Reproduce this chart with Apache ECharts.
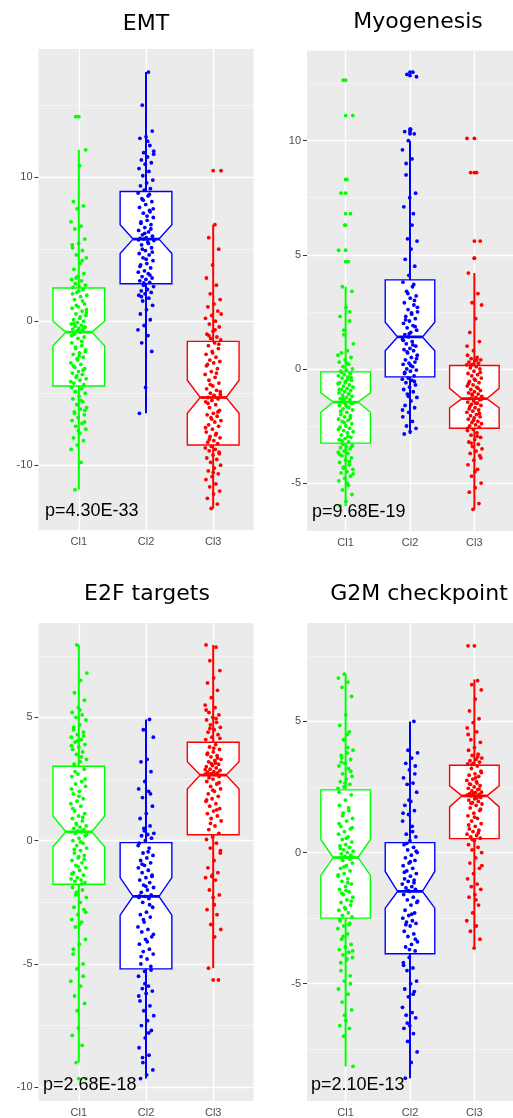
<!DOCTYPE html>
<html>
<head>
<meta charset="utf-8">
<script src="https://cdn.jsdelivr.net/npm/echarts@6/dist/echarts.min.js"></script>
<style>
html,body{margin:0;padding:0;background:#fff;}
#chart{width:513px;height:1118px;}
</style>
</head>
<body>
<div id="chart"></div>
<script>
// ---------------- DATA ----------------
const categories = ['Cl1', 'Cl2', 'Cl3'];
const panelTitles = ['EMT', 'Myogenesis', 'E2F targets', 'G2M checkpoint'];
const pValues = ['p=4.30E-33', 'p=9.68E-19', 'p=2.68E-18', 'p=2.10E-13'];

// y-axis domains and tick labels
const emtRange = [-14.5, 18.9];
const myoRange = [-7.1, 13.95];
const e2fRange = [-10.56, 8.83];
const g2mRange = [-9.47, 8.75];
const emtTicks = [-10, 0, 10];
const myoTicks = [-5, 0, 5, 10];
const e2fTicks = [-10, -5, 0, 5];
const g2mTicks = [-5, 0, 5];
const emtMinor = [-5, 5, 15];
const myoMinor = [-2.5, 2.5, 7.5, 12.5];
const e2fMinor = [-7.5, -2.5, 2.5, 7.5];
const g2mMinor = [-7.5, -2.5, 2.5, 7.5];

// box stats per cluster: [whiskerLow, Q1, median, Q3, whiskerHigh, notchLow, notchHigh]
const emtBoxes = [
  [-11.7, -4.5, -0.76, 2.3, 11.9, -1.7, 0.0],
  [-6.4, 2.6, 5.7, 9.0, 17.3, 4.7, 6.7],
  [-13.0, -8.6, -5.3, -1.4, 6.7, -6.4, -4.1]
];
const myoBoxes = [
  [-6.0, -3.25, -1.45, -0.13, 3.6, -1.9, -1.05],
  [-2.85, -0.35, 1.4, 3.9, 10.0, 0.8, 2.05],
  [-6.15, -2.6, -1.3, 0.15, 4.2, -1.7, -0.85]
];
const e2fBoxes = [
  [-9.0, -1.77, 0.36, 3.02, 7.94, -0.25, 1.0],
  [-9.65, -5.2, -2.26, -0.08, 4.92, -3.02, -1.5],
  [-5.17, 0.24, 2.66, 3.99, 7.94, 2.1, 3.2]
];
const g2mBoxes = [
  [-8.15, -2.5, -0.19, 2.39, 6.8, -0.87, 0.5],
  [-8.6, -3.86, -1.48, 0.38, 5.0, -2.12, -0.72],
  [-3.64, 0.53, 2.16, 3.33, 6.6, 1.74, 2.54]
];

// outliers drawn by the boxplot
const emtOutliers = [[14.2], [], [10.45]];
const myoOutliers = [[12.65, 11.1, 8.3, 7.7, 6.8, 6.3, 5.2, 4.7], [13.0, 12.85, 10.5, 10.4, 10.3], [10.1, 8.6, 5.6, 4.85]];
const e2fOutliers = [[-9.65], [], [-5.65]];
const g2mOutliers = [[], [], [7.88]];

// jittered sample points
const emtCl1 = [14.2, 11.9, 10.8, 8.3, 8.0, 7.8, 6.9, 6.6, 6.4, 5.7, 5.4, 5.1, 4.9, 4.6, 4.4, 4.0, 3.6, 3.3, 3.1, 2.9, 2.8, 2.6, 2.5, 2.4, 2.35,
  2.2, 2.0, 1.8, 1.7, 1.5, 1.2, 1.0, 0.9, 0.7, 0.5, 0.4, 0.2, 0.1, 0.0, -0.1, -0.2, -0.3, -0.35, -0.4, -0.5, -0.55, -0.6, -0.7, 0.8, -0.76,
  -0.9, -1.1, -1.2, -1.5, -1.7, -1.9, -2.0, -2.2, -2.3, -2.5, -2.6, -2.9, -3.0, -3.2, -3.3, -3.5, -3.6, -3.7, -3.9, -4.0, -4.1, -4.3, -4.4, -2.7,
  -4.6, -4.7, -4.9, -5.0, -5.2, -5.4, -5.6, -5.8, -6.0, -6.1, -6.3, -6.5, -6.7, -6.9, -7.1, -7.3, -7.5, -7.8, -8.1, -8.3, -8.6, -8.9, -9.8, -11.7, -6.2,
  2.1, 1.9, 1.4, 1.1, 0.6, 0.3, -0.15, -0.45, -0.65, -1.0, -1.4, -1.8, -2.1, -2.4, -3.1, -3.4, -3.8, -4.2, -5.5, -6.4, -7.0, -7.6, 5.3, 4.2, 3.0];
const emtCl2 = [17.3, 15.0, 13.2, 12.8, 12.7, 12.2, 11.7, 11.6, 11.4, 11.2, 11.0, 10.9, 10.6, 10.4, 10.1, 9.8, 9.6, 9.4, 9.2, 9.1,
  8.9, 8.7, 8.5, 8.3, 8.1, 7.9, 7.7, 7.5, 7.2, 7.0, 6.9, 6.7, 6.5, 6.3, 6.2, 6.0, 5.9, 5.8, 5.75, 7.6, 5.7,
  5.6, 5.5, 5.3, 5.1, 4.9, 4.7, 4.6, 4.4, 4.2, 4.0, 3.9, 3.7, 3.5, 3.4, 3.3, 3.1, 3.0, 2.9, 2.8, 2.7,
  2.5, 2.4, 2.2, 2.1, 2.0, 1.9, 1.8, 1.6, 1.4, 1.1, 0.8, 0.5, 0.1, -0.3, -0.6, -1.0, -1.5, -2.1, -4.6, -6.4,
  8.8, 8.4, 7.8, 7.3, 6.8, 6.4, 6.1, 5.65, 5.4, 5.0, 4.8, 4.3, 3.8, 3.2, 2.65, 11.8, 12.5, 1.7];
const emtCl3 = [10.45, 6.7, 5.8, 5.0, 3.9, 3.0, 2.5, 1.9, 1.5, 1.2, 1.0, 0.7, 0.4, 0.2, 0.0, -0.2, -0.4, -0.7, -0.9, -1.1, -1.2, -1.3,
  -1.5, -1.7, -1.9, -2.1, -2.3, -2.5, -2.7, -2.8, -2.9, -3.0, -3.3, -3.5, -3.7, -3.9, -4.1, -4.3, -4.5, -4.7, -4.8, -5.0, -5.1, -5.2, -5.3,
  -5.4, -5.5, -5.6, -5.8, -6.0, -6.2, -6.4, -6.5, -6.6, -6.7, -6.9, -7.0, -7.2, -7.3, -7.5, -7.7, -7.8, -8.0, -8.1, -8.3, -8.4, -8.5,
  -8.7, -8.8, -8.9, -9.0, -9.1, -9.3, -9.5, -9.6, -9.8, -10.0, -10.2, -10.4, -10.6, -10.8, -11.0, -11.3, -11.5, -11.8, -12.0, -12.3, -12.7, -13.0,
  0.5, -0.6, -1.0, -1.6, -2.2, -3.1, -3.6, -4.4, -4.9, -5.15, -5.7, -6.3, -6.8, -7.4, -7.9, -8.2, -9.2, -10.5];

const myoCl1 = [12.65, 11.1, 8.3, 7.7, 6.8, 6.3, 5.2, 4.7, 3.6, 3.4, 2.7, 2.3, 2.1, 1.7, 1.1, 0.8, 0.7, 0.5, 0.4, 0.3, 0.2, 0.1, 0.0, -0.05, -0.1,
  -0.2, -0.25, -0.3, -0.35, -0.4, -0.5, -0.55, -0.6, -0.7, -0.75, -0.8, -0.85, -0.9, -0.95, -1.0, -1.05, -1.1, -1.15, -1.2, -1.25, -1.3, -1.35, -1.4, -0.65, -0.45, -1.45,
  -1.5, -1.55, -1.6, -1.7, -1.75, -1.8, -1.9, -2.0, -2.05, -2.1, -2.2, -2.25, -2.3, -2.4, -2.5, -2.55, -2.6, -2.7, -2.75, -2.8, -2.9, -3.0, -3.05, -3.1, -3.2,
  -3.3, -3.35, -3.4, -3.45, -3.5, -3.6, -3.65, -3.7, -3.8, -3.9, -4.0, -4.1, -4.2, -4.3, -4.4, -4.5, -4.55, -4.7, -4.8, -4.9, -5.1, -5.3, -5.5, -5.8, -6.0,
  2.5, 1.5, 0.6, 0.25, -0.15, -0.38, -0.6, -0.9, -1.1, -1.3, -1.5, -1.65, -1.85, -2.15, -2.35, -2.65, -2.95, -3.15, -3.4, -3.55, -3.75, -4.05, -4.35, -4.6, -5.0];
const myoCl2 = [13.0, 12.9, 12.8, 10.5, 10.4, 10.3, 10.0, 9.6, 9.2, 8.5, 7.7, 7.5, 7.1, 6.8, 5.7, 5.6, 5.25, 4.8, 4.5, 4.1,
  3.8, 3.6, 3.4, 3.2, 3.1, 2.9, 2.8, 2.6, 2.5, 2.4, 2.3, 2.2, 2.1, 2.0, 1.9, 1.8, 1.7, 1.6, 1.5, 3.0, 1.4,
  1.3, 1.2, 1.1, 1.0, 0.9, 0.85, 0.8, 0.7, 0.6, 0.5, 0.4, 0.3, 0.25, 0.2, 0.1, 0.0, -0.05, -0.1, -0.2, -0.3,
  -0.4, -0.45, -0.5, -0.6, -0.7, -0.8, -0.9, -1.0, -1.1, -1.25, -1.4, -1.6, -1.7, -1.9, -2.1, -2.3, -2.5, -2.6, -2.75, -2.85,
  3.7, 3.3, 2.7, 2.45, 2.15, 1.85, 1.55, 1.25, 1.05, 0.75, 0.45, 0.15, -0.15, -0.55, -1.2, -1.8, 6.3, 9.0];
const myoCl3 = [10.1, 8.6, 8.6, 5.6, 4.85, 4.2, 3.3, 2.9, 2.8, 2.2, 1.6, 1.2, 0.8, 0.6, 0.5, 0.45, 0.4, 0.35, 0.3, 0.25, 0.2, 0.18,
  0.1, 0.05, 0.0, -0.1, -0.2, -0.25, -0.3, -0.4, -0.5, -0.55, -0.6, -0.7, -0.75, -0.8, -0.9, -0.95, -1.0, -1.05, -1.1, -1.15, -1.2, -1.25, -1.3,
  -1.35, -1.4, -1.45, -1.5, -1.55, -1.6, -1.7, -1.75, -1.8, -1.85, -1.9, -2.0, -2.05, -2.1, -2.15, -2.2, -2.3, -2.35, -2.4, -2.45, -2.5, -2.55,
  -2.65, -2.7, -2.8, -2.9, -3.0, -3.1, -3.2, -3.3, -3.4, -3.5, -3.6, -3.7, -3.8, -4.0, -4.2, -4.4, -4.7, -5.0, -5.2, -5.4, -5.9, -6.15,
  1.0, 0.4, 0.15, -0.15, -0.45, -0.65, -0.85, -1.1, -1.32, -1.5, -1.65, -1.95, -2.25, -2.6, -2.95, -3.25, -3.9, -4.5];

const e2fCl1 = [7.94, 6.8, 6.5, 6.0, 5.7, 5.4, 5.2, 5.1, 5.0, 4.9, 4.7, 4.5, 4.4, 4.3, 4.2, 4.1, 4.0, 3.9, 3.8, 3.7, 3.6, 3.5, 3.3, 3.2, 3.1,
  2.9, 2.7, 2.6, 2.4, 2.3, 2.2, 2.0, 1.9, 1.7, 1.6, 1.5, 1.4, 1.2, 1.1, 1.0, 0.9, 0.8, 0.7, 0.6, 0.55, 0.5, 0.45, 0.4, 2.1, 0.36,
  0.3, 0.2, 0.1, 0.0, -0.1, -0.2, -0.3, -0.4, -0.5, -0.6, -0.7, -0.8, -0.9, -1.0, -1.1, -1.2, -1.3, -1.4, -1.5, -1.55, -1.6, -1.65, -1.7, -0.65,
  -1.9, -2.0, -2.1, -2.3, -2.5, -2.7, -2.8, -3.0, -3.2, -3.3, -3.5, -4.0, -4.2, -4.6, -5.0, -5.2, -5.7, -5.9, -6.3, -6.6, -7.6, -7.9, -8.3, -9.0, -9.65,
  5.3, 4.6, 4.25, 4.05, 3.85, 3.4, 2.8, 2.5, 1.8, 1.3, 0.95, 0.65, 0.25, -0.05, -0.35, -0.75, -1.05, -1.35, -1.75, -2.2, -2.9, -3.4, -4.4, -5.5, -6.9];
const e2fCl2 = [4.92, 4.5, 4.2, 3.3, 3.2, 2.8, 2.4, 2.1, 2.0, 1.75, 1.4, 1.1, 0.9, 0.6, 0.5, 0.3, 0.25, 0.2, 0.1, 0.0,
  -0.1, -0.3, -0.5, -0.6, -0.7, -0.8, -0.9, -1.0, -1.1, -1.2, -1.3, -1.4, -1.5, -1.6, -1.7, -1.8, -1.9, -2.0, -2.1, -2.2, -2.26,
  -2.3, -2.35, -2.5, -2.7, -2.9, -3.0, -3.1, -3.3, -3.5, -3.6, -3.7, -3.9, -4.0, -4.2, -4.4, -4.5, -4.6, -4.8, -5.0, -5.1,
  -5.3, -5.5, -5.9, -6.0, -6.1, -6.2, -6.5, -6.7, -6.9, -7.1, -7.3, -7.5, -7.7, -8.0, -8.4, -8.7, -9.0, -9.3, -9.5, -9.65,
  1.9, 0.4, -0.2, -0.45, -0.95, -1.45, -1.85, -2.24, -2.6, -3.2, -3.8, -4.1, -4.7, -5.25, -5.8, -6.3, -7.8, -8.8];
const e2fCl3 = [7.94, 7.85, 7.3, 6.9, 6.6, 6.4, 6.1, 5.8, 5.5, 5.4, 5.2, 5.1, 5.0, 4.9, 4.8, 4.7, 4.6, 4.5, 4.4, 4.3, 4.2, 4.1,
  3.9, 3.8, 3.7, 3.6, 3.5, 3.45, 3.4, 3.3, 3.25, 3.2, 3.1, 3.05, 3.0, 2.95, 2.9, 2.85, 2.8, 2.78, 2.75, 2.72, 2.7, 3.15, 2.66,
  2.6, 2.5, 2.4, 2.3, 2.2, 2.1, 2.0, 1.9, 1.8, 1.7, 1.6, 1.5, 1.4, 1.3, 1.2, 1.1, 1.0, 0.9, 0.8, 0.6, 0.45, 0.3,
  0.15, 0.05, -0.1, -0.3, -0.5, -0.8, -1.1, -1.3, -1.45, -1.5, -1.6, -2.0, -2.2, -2.3, -2.8, -3.0, -3.4, -3.6, -3.9, -5.17, -5.65, -1.4,
  5.3, 4.95, 4.55, 4.15, 3.75, 3.55, 3.35, 3.12, 2.88, 2.68, 2.55, 2.35, 2.05, 1.65, 1.25, 0.7, -0.4, -2.6];

const g2mCl1 = [6.8, 6.65, 6.5, 6.3, 5.95, 5.25, 4.85, 4.6, 4.3, 3.9, 3.8, 3.7, 3.55, 3.4, 3.3, 3.2, 3.0, 2.9, 2.8, 2.7, 2.6, 2.5, 2.45, 4.0, 3.6,
  2.2, 2.0, 1.8, 1.6, 1.5, 1.3, 1.2, 1.0, 0.9, 0.8, 0.7, 0.6, 0.5, 0.4, 0.3, 0.25, 0.2, 0.1, 0.05, 0.0, -0.05, -0.1, -0.15, 1.1, -0.19,
  -0.3, -0.4, -0.5, -0.6, -0.7, -0.8, -0.9, -1.0, -1.1, -1.2, -1.3, -1.4, -1.5, -1.6, -1.7, -1.8, -1.9, -2.0, -2.1, -2.2, -2.3, -2.4, -2.45, -1.45,
  -2.6, -2.7, -2.8, -2.9, -3.1, -3.3, -3.5, -3.6, -3.7, -3.8, -3.9, -4.0, -4.1, -4.2, -4.7, -4.9, -5.2, -5.4, -5.7, -6.0, -6.4, -6.6, -6.7, -7.0, -8.15,
  4.5, 3.45, 3.1, 2.65, 2.3, 1.7, 1.4, 0.95, 0.55, 0.15, -0.25, -0.55, -0.85, -1.15, -1.55, -1.85, -2.15, -2.55, -2.75, -3.2, -3.75, -4.05, -4.5, -5.0, -6.2];
const g2mCl2 = [5.0, 3.9, 3.8, 3.6, 3.4, 3.3, 3.15, 2.85, 2.65, 2.6, 2.3, 1.95, 1.8, 1.6, 1.45, 1.2, 1.0, 0.7, 0.6, 0.45,
  0.3, 0.2, 0.1, 0.0, -0.1, -0.2, -0.3, -0.4, -0.5, -0.6, -0.7, -0.8, -0.9, -1.0, -1.05, -1.1, -1.2, -1.3, -1.35, -1.4, -1.48,
  -1.6, -1.7, -1.8, -1.9, -2.0, -2.2, -2.3, -2.4, -2.5, -2.6, -2.65, -2.7, -2.8, -3.0, -3.1, -3.2, -3.4, -3.5, -3.6, -3.75,
  -4.0, -4.2, -4.4, -4.5, -4.9, -5.0, -5.2, -5.3, -5.5, -5.9, -6.1, -6.2, -6.3, -6.6, -6.7, -6.9, -7.2, -7.6, -8.0, -8.6,
  3.0, 2.0, 1.5, 0.8, 0.35, 0.05, -0.35, -0.75, -1.15, -1.45, -1.85, -2.35, -2.75, -3.3, -3.7, -4.3, -5.4, -6.5];
const g2mCl3 = [7.88, 6.55, 6.4, 6.2, 5.85, 5.4, 5.1, 4.95, 4.75, 4.6, 4.3, 4.2, 4.0, 3.9, 3.75, 3.7, 3.6, 3.55, 3.5, 3.45, 3.4, 3.38,
  3.3, 3.2, 3.1, 3.0, 2.95, 2.9, 2.8, 2.75, 2.7, 2.6, 2.55, 2.5, 2.45, 2.4, 2.35, 2.3, 2.28, 2.25, 2.22, 2.2, 2.18, 2.65, 2.16,
  2.1, 2.05, 2.0, 1.95, 1.9, 1.85, 1.8, 1.7, 1.6, 1.5, 1.4, 1.3, 1.2, 1.1, 1.0, 0.9, 0.85, 0.8, 0.7, 0.65, 0.6, 0.55,
  0.45, 0.3, 0.2, 0.1, 0.0, -0.2, -0.4, -0.6, -0.8, -1.0, -1.2, -1.3, -1.4, -1.6, -1.7, -2.0, -2.3, -2.6, -2.8, -3.0, -3.3, -3.64,
  4.5, 3.65, 3.35, 3.05, 2.85, 2.62, 2.42, 2.26, 2.19, 2.08, 1.88, 1.65, 1.35, 1.05, 0.75, 0.5, -0.5, -1.8];

// ---------------- LAYOUT / STYLE ----------------
const COLORS = ['#00FF00', '#0000FF', '#FF0000'];
const BOX_W = 0.77;
const JITTER = 0.12;
const grids = [
  {left: 38.5, top: 49, width: 215, height: 481},
  {left: 307, top: 50.5, width: 221, height: 480.5},
  {left: 38.5, top: 623, width: 215, height: 481},
  {left: 307, top: 623, width: 221, height: 481}
];
const panels = [
  {range: emtRange, ticks: emtTicks, minor: emtMinor, boxes: emtBoxes, outliers: emtOutliers, groups: [emtCl1, emtCl2, emtCl3]},
  {range: myoRange, ticks: myoTicks, minor: myoMinor, boxes: myoBoxes, outliers: myoOutliers, groups: [myoCl1, myoCl2, myoCl3]},
  {range: e2fRange, ticks: e2fTicks, minor: e2fMinor, boxes: e2fBoxes, outliers: e2fOutliers, groups: [e2fCl1, e2fCl2, e2fCl3]},
  {range: g2mRange, ticks: g2mTicks, minor: g2mMinor, boxes: g2mBoxes, outliers: g2mOutliers, groups: [g2mCl1, g2mCl2, g2mCl3]}
];
const titlePos = [[146, 24], [418, 22.5], [147, 594], [419, 594]];
const pPos = [[45, 511], [312, 512], [43, 1085], [311, 1085]];

function jitterOffset(i) {
  const f = (i * 0.6180339887 + 0.31) % 1;
  return (f - 0.5) * 2 * JITTER;
}

function renderBox(params, api) {
  const x = api.value(0);
  const wl = api.value(1), q1 = api.value(2), med = api.value(3), q3 = api.value(4);
  const wh = api.value(5), nl = api.value(6), nh = api.value(7);
  const hw = BOX_W / 2, nw = hw * 0.5;
  const c = (xx, yy) => api.coord([xx, yy]);
  const color = COLORS[params.dataIndex];
  const pts = [c(x - hw, q3), c(x + hw, q3), c(x + hw, nh), c(x + nw, med), c(x + hw, nl),
               c(x + hw, q1), c(x - hw, q1), c(x - hw, nl), c(x - nw, med), c(x - hw, nh)];
  const top = c(x, q3), topW = c(x, wh), bot = c(x, q1), botW = c(x, wl);
  const m1 = c(x - nw, med), m2 = c(x + nw, med);
  return {
    type: 'group',
    children: [
      {type: 'line', shape: {x1: top[0], y1: top[1], x2: topW[0], y2: topW[1]}, style: {stroke: color, lineWidth: 2}},
      {type: 'line', shape: {x1: bot[0], y1: bot[1], x2: botW[0], y2: botW[1]}, style: {stroke: color, lineWidth: 2}},
      {type: 'polygon', shape: {points: pts}, style: {fill: '#ffffff', stroke: color, lineWidth: 1.4}},
      {type: 'line', shape: {x1: m1[0], y1: m1[1], x2: m2[0], y2: m2[1]}, style: {stroke: color, lineWidth: 2.8}}
    ]
  };
}

const option = {
  animation: false,
  grid: [], xAxis: [], yAxis: [], series: [],
  graphic: {elements: []}
};

panels.forEach((p, k) => {
  option.grid.push(Object.assign({show: true, backgroundColor: '#EBEBEB', borderWidth: 0, containLabel: false}, grids[k]));
  option.xAxis.push({
    gridIndex: k, type: 'value', min: 0.4, max: 3.6,
    axisLine: {show: false},
    axisTick: {show: true, length: 4, customValues: [1, 2, 3], lineStyle: {color: '#333333', width: 1}},
    axisLabel: {show: true, customValues: [1, 2, 3], formatter: v => categories[Math.round(v) - 1],
                color: '#4D4D4D', fontSize: 11, fontFamily: 'Liberation Sans, Arial', margin: 6},
    splitLine: {show: false}
  });
  option.yAxis.push({
    gridIndex: k, type: 'value', min: p.range[0], max: p.range[1],
    axisLine: {show: false},
    axisTick: {show: true, length: 4, customValues: p.ticks, lineStyle: {color: '#333333', width: 1}},
    axisLabel: {show: true, customValues: p.ticks, formatter: v => String(v),
                color: '#4D4D4D', fontSize: 11, fontFamily: 'Liberation Sans, Arial', margin: 6},
    splitLine: {show: false}
  });
  // grid lines
  const ml = [];
  p.minor.forEach(v => ml.push({yAxis: v, lineStyle: {color: '#F6F6F6', width: 0.8, type: 'solid'}}));
  p.ticks.forEach(v => ml.push({yAxis: v, lineStyle: {color: '#FFFFFF', width: 1.4, type: 'solid'}}));
  [1, 2, 3].forEach(v => ml.push({xAxis: v, lineStyle: {color: '#FFFFFF', width: 1.4, type: 'solid'}}));
  option.series.push({
    type: 'scatter', xAxisIndex: k, yAxisIndex: k, data: [], silent: true, z: 1,
    markLine: {silent: true, z: 1, symbol: ['none', 'none'], label: {show: false}, animation: false, data: ml}
  });
  // notched boxes
  option.series.push({
    type: 'custom', xAxisIndex: k, yAxisIndex: k, z: 3, silent: true, clip: true,
    renderItem: renderBox,
    encode: {x: 0, y: [1, 2, 3, 4, 5, 6, 7]},
    data: p.boxes.map((b, i) => [i + 1].concat(b))
  });
  // outliers at category centre
  p.outliers.forEach((arr, g) => {
    if (!arr.length) return;
    option.series.push({
      type: 'scatter', xAxisIndex: k, yAxisIndex: k, z: 4, silent: true,
      symbolSize: 3.8, itemStyle: {color: COLORS[g], opacity: 1},
      data: arr.map(v => [g + 1, v])
    });
  });
  // jittered points
  p.groups.forEach((arr, g) => {
    option.series.push({
      type: 'scatter', xAxisIndex: k, yAxisIndex: k, z: 5, silent: true,
      symbolSize: 3.8, itemStyle: {color: COLORS[g], opacity: 1},
      data: arr.map((v, i) => [g + 1 + jitterOffset(i + g * 41 + k * 13), v])
    });
  });
  option.graphic.elements.push({
    type: 'text', x: titlePos[k][0], y: titlePos[k][1], z: 10,
    style: {text: panelTitles[k], font: '22px "DejaVu Sans"', fill: '#000000', align: 'center', verticalAlign: 'middle'}
  });
  option.graphic.elements.push({
    type: 'text', x: pPos[k][0], y: pPos[k][1], z: 10,
    style: {text: pValues[k], font: '18px "Liberation Sans"', fill: '#000000', align: 'left', verticalAlign: 'middle'}
  });
});

const chart = echarts.init(document.getElementById('chart'), null, {renderer: 'canvas'});
chart.setOption(option);
</script>
</body>
</html>
